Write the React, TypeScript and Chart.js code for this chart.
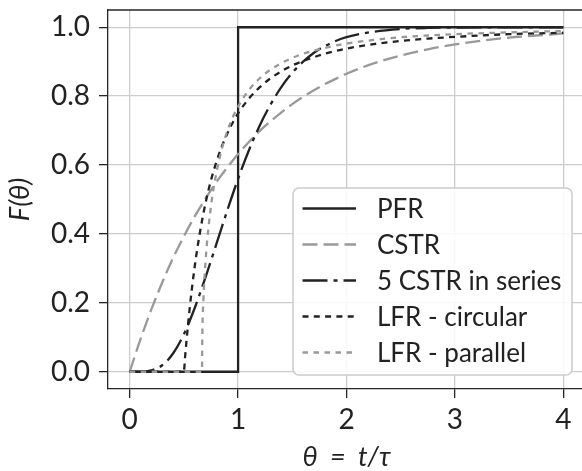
import React, { useEffect, useRef } from "react";
import { Chart, registerables } from "chart.js";

Chart.register(...registerables);

// ---- Data ----
const xTicks = [0, 1, 2, 3, 4];
const xTickLabels = ["0", "1", "2", "3", "4"];
const yTicks = [0, 0.2, 0.4, 0.6, 0.8, 1.0];
const yTickLabels = ["0.0", "0.2", "0.4", "0.6", "0.8", "1.0"];

const seriesLabels = ["PFR", "CSTR", "5 CSTR in series", "LFR - circular", "LFR - parallel"];

const thetaPFR = [0, 1, 1, 4];
const fPFR = [0, 0, 1, 1];

const thetaCSTR = [0, 0.1, 0.2, 0.3, 0.4, 0.5, 0.6, 0.7, 0.8, 0.9, 1.0, 1.1, 1.2, 1.3, 1.4, 1.5, 1.6, 1.7, 1.8, 1.9, 2.0, 2.25, 2.5, 2.75, 3.0, 3.25, 3.5, 3.75, 4.0];
const fCSTR = [0, 0.095, 0.181, 0.259, 0.330, 0.393, 0.451, 0.503, 0.551, 0.593, 0.632, 0.667, 0.699, 0.727, 0.753, 0.777, 0.798, 0.817, 0.835, 0.850, 0.865, 0.895, 0.918, 0.936, 0.950, 0.961, 0.970, 0.976, 0.982];

const theta5 = [0, 0.1, 0.2, 0.3, 0.4, 0.5, 0.6, 0.7, 0.8, 0.9, 1.0, 1.1, 1.2, 1.3, 1.4, 1.5, 1.6, 1.7, 1.8, 1.9, 2.0, 2.25, 2.5, 2.75, 3.0, 3.5, 4.0];
const f5 = [0, 0.0002, 0.004, 0.019, 0.053, 0.109, 0.185, 0.275, 0.371, 0.468, 0.560, 0.643, 0.715, 0.776, 0.827, 0.868, 0.900, 0.926, 0.945, 0.960, 0.971, 0.987, 0.995, 0.998, 0.999, 1.0, 1.0];

const thetaLFRc = [0, 0.5, 0.51, 0.52, 0.55, 0.6, 0.65, 0.7, 0.75, 0.8, 0.85, 0.9, 0.95, 1.0, 1.1, 1.2, 1.3, 1.4, 1.5, 1.6, 1.8, 2.0, 2.25, 2.5, 2.75, 3.0, 3.5, 4.0];
const fLFRc = [0, 0, 0.039, 0.075, 0.174, 0.306, 0.408, 0.490, 0.556, 0.609, 0.654, 0.691, 0.723, 0.750, 0.793, 0.826, 0.852, 0.872, 0.889, 0.902, 0.923, 0.938, 0.951, 0.960, 0.967, 0.972, 0.980, 0.984];

const thetaLFRp = [0, 0.6667, 0.67, 0.68, 0.7, 0.75, 0.8, 0.85, 0.9, 0.95, 1.0, 1.1, 1.2, 1.3, 1.4, 1.5, 1.6, 1.8, 2.0, 2.25, 2.5, 2.75, 3.0, 3.5, 4.0];
const fLFRp = [0, 0, 0.106, 0.209, 0.322, 0.481, 0.578, 0.647, 0.698, 0.738, 0.770, 0.818, 0.852, 0.877, 0.896, 0.911, 0.923, 0.940, 0.953, 0.963, 0.971, 0.976, 0.980, 0.985, 0.989];

// ---- Styles ----
const BLACK = "#222222";
const GRAY = "#999999";
const seriesColors = [BLACK, GRAY, BLACK, BLACK, GRAY];
const seriesDashes: number[][] = [[], [15, 6], [25, 6, 4, 6], [6, 5.3], [5.5, 5.5]];
const LINE_W = 2.3;
const TICK_FONT = "Lato";
const TITLE_FONT = "Lato";

const zip = (xs: number[], ys: number[]) => xs.map((x, i) => ({ x, y: ys[i] }));

const frameLegendPlugin = {
  id: "frameLegend",
  afterDatasetsDraw(chart: any) {
    const { ctx, chartArea: a } = chart;
    ctx.save();
    ctx.strokeStyle = "#262626";
    ctx.lineWidth = 1.3;
    ctx.beginPath();
    ctx.moveTo(a.left, a.top);
    ctx.lineTo(a.right, a.top);
    ctx.lineTo(a.right, a.bottom);
    ctx.stroke();
    ctx.restore();
  },
  afterDraw(chart: any) {
    const { ctx, chartArea: a } = chart;
    const right = a.right - 13;
    const bottom = a.bottom - 14;
    const w = 279;
    const h = 187;
    const left = right - w;
    const top = bottom - h;
    ctx.save();
    ctx.beginPath();
    (ctx as any).roundRect(left, top, w, h, 6);
    ctx.fillStyle = "rgba(255,255,255,0.85)";
    ctx.fill();
    ctx.strokeStyle = "#cccccc";
    ctx.lineWidth = 1.5;
    ctx.stroke();
    const datasets = chart.data.datasets;
    const rowH = 36;
    const firstY = top + 20.5;
    datasets.forEach((ds: any, i: number) => {
      const y = firstY + i * rowH;
      ctx.beginPath();
      ctx.setLineDash(ds.borderDash || []);
      ctx.lineDashOffset = 0;
      ctx.strokeStyle = ds.borderColor;
      ctx.lineWidth = ds.borderWidth;
      ctx.lineCap = "butt";
      ctx.moveTo(left + 9.5, y);
      ctx.lineTo(left + 63, y);
      ctx.stroke();
      ctx.setLineDash([]);
      ctx.fillStyle = "#222222";
      ctx.font = `26px ${TICK_FONT}`;
      ctx.textBaseline = "middle";
      ctx.textAlign = "left";
      ctx.fillText(ds.label, left + 84, y + 1);
    });
    ctx.restore();
  },
};

export default function App() {
  const canvasRef = useRef<HTMLCanvasElement | null>(null);

  useEffect(() => {
    const canvas = canvasRef.current;
    if (!canvas) return;
    const series = [
      zip(thetaPFR, fPFR),
      zip(thetaCSTR, fCSTR),
      zip(theta5, f5),
      zip(thetaLFRc, fLFRc),
      zip(thetaLFRp, fLFRp),
    ];
    const chart = new Chart(canvas, {
      type: "line",
      data: {
        datasets: series.map((d, i) => ({
          label: seriesLabels[i],
          data: d,
          borderColor: seriesColors[i],
          backgroundColor: seriesColors[i],
          borderDash: seriesDashes[i],
          borderWidth: LINE_W,
          pointRadius: 0,
          fill: false,
          cubicInterpolationMode: i === 0 ? "default" : "monotone",
          tension: 0,
          order: 5 - i,
        })),
      },
      options: {
        animation: false,
        responsive: false,
        devicePixelRatio: 1,
        layout: { padding: { top: 10, right: 7, left: 0, bottom: 0 }, autoPadding: false },
        plugins: { legend: { display: false }, tooltip: { enabled: false } },
        scales: {
          x: {
            type: "linear",
            min: -0.2,
            max: 4.2,
            afterBuildTicks: (scale: any) => {
              scale.ticks = xTicks.map((v) => ({ value: v }));
            },
            afterFit: (scale: any) => {
              scale.height = 82;
            },
            ticks: {
              callback: (v: any) => xTickLabels[xTicks.indexOf(Number(v))] ?? "",
              font: { family: TICK_FONT, size: 28, lineHeight: 1.2 },
              color: "#222222",
              padding: 5,
              maxRotation: 0,
              autoSkip: false,
            },
            grid: { color: "#cccccc", lineWidth: 1.3, tickColor: "#262626", tickLength: 9, tickWidth: 1.3 },
            border: { color: "#262626", width: 1.3 },
            title: {
              display: true,
              text: "\u03B8\u2002=\u2002t/\u03C4",
              font: { family: TITLE_FONT, size: 27, style: "italic", lineHeight: 1 },
              color: "#222222",
              padding: { top: 0, bottom: 0 },
            },
          },
          y: {
            type: "linear",
            min: -0.05,
            max: 1.05,
            afterBuildTicks: (scale: any) => {
              scale.ticks = yTicks.map((v) => ({ value: v }));
            },
            afterFit: (scale: any) => {
              scale.width = 108;
              scale.paddingTop = 0;
              scale.paddingBottom = 0;
            },
            ticks: {
              callback: (v: any) => {
                const idx = yTicks.findIndex((t) => Math.abs(t - Number(v)) < 1e-9);
                return idx >= 0 ? yTickLabels[idx] : "";
              },
              font: { family: TICK_FONT, size: 28, lineHeight: 0.05 },
              color: "#222222",
              padding: 9,
              autoSkip: false,
            },
            grid: { color: "#cccccc", lineWidth: 1.3, tickColor: "#262626", tickLength: 9, tickWidth: 1.3 },
            border: { color: "#262626", width: 1.3 },
            title: {
              display: true,
              text: "F(\u03B8)",
              font: { family: TITLE_FONT, size: 27, style: "italic", lineHeight: 1 },
              color: "#222222",
              padding: { top: 7, bottom: 0 },
            },
          },
        },
      } as any,
      plugins: [frameLegendPlugin],
    });
    return () => chart.destroy();
  }, []);

  return (
    <div style={{ position: "absolute", left: 0, top: 0, width: 582, height: 471, overflow: "hidden", background: "#ffffff" }}>
      <canvas ref={canvasRef} width={592} height={471} style={{ display: "block", width: 592, height: 471 }} />
    </div>
  );
}
